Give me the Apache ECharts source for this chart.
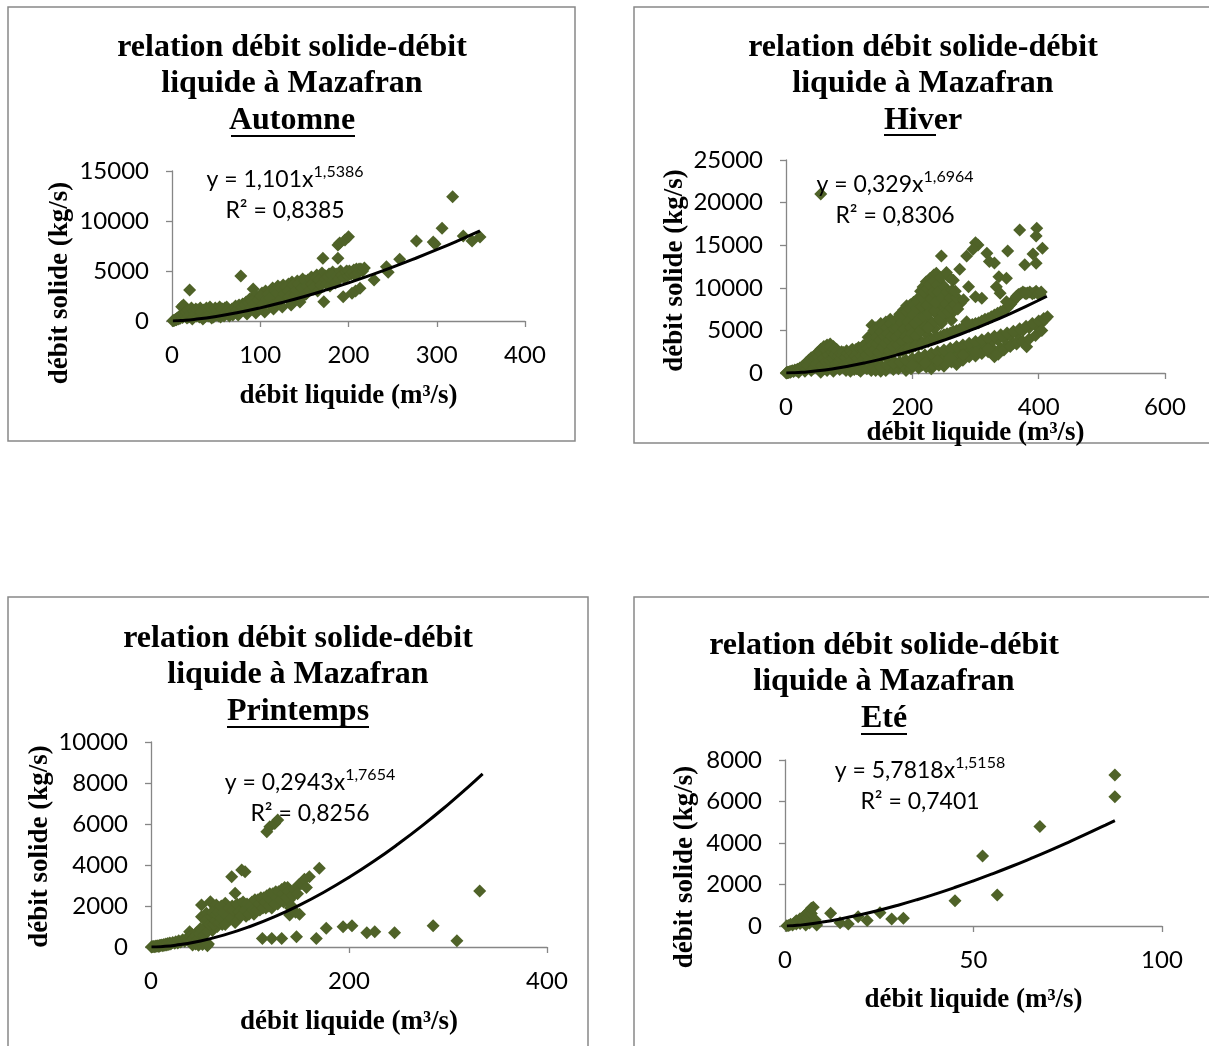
<!DOCTYPE html>
<html><head><meta charset="utf-8">
<script src="https://cdn.jsdelivr.net/npm/echarts@6/dist/echarts.min.js"></script>
<style>html,body{margin:0;padding:0;background:#fff}#c{width:1209px;height:1046px}</style>
</head><body><div id="c"></div>
<script>
// ---------- DATA ----------
const titleLine1 = 'relation débit solide-débit';
const titleLine2 = 'liquide à Mazafran';
const seasons = ['Automne', 'Hiver', 'Printemps', 'Eté'];
const xAxisName = 'débit liquide (m³/s)';
const yAxisName = 'débit solide (kg/s)';
const eqBase = ['y = 1,101x', 'y = 0,329x', 'y = 0,2943x', 'y = 5,7818x'];
const eqExp = ['1,5386', '1,6964', '1,7654', '1,5158'];
const eqR2 = ['R² = 0,8385', 'R² = 0,8306', 'R² = 0,8256', 'R² = 0,7401'];
const xMaxs = [400, 600, 400, 100];
const xSteps = [100, 200, 200, 50];
const yMaxs = [15000, 25000, 10000, 8000];
const ySteps = [5000, 5000, 2000, 2000];

const autumnPts = [
[1,20],[2,50],[3,80],[4,150],[5,120],[6,300],[7,200],[8,400],[9,250],[10,600],[11,1430],[12,350],[13,1600],[14,700],[15,500],[16,900],[18,1100],[19,400],[20,3100],[21,800],[22,1300],[24,600],[25,1000],[27,1200],[28,500],[30,900],[32,1300],[34,700],[35,200],[36,1100],[38,600],[40,1000],[42,800],[44,1200],[45,300],[46,700],[48,1000],[50,600],[52,900],[55,1100],[55,400],[58,800],[60,1300],[62,1400],[64,900],[65,500],[66,700],[68,1200],[70,1000],[72,1500],[75,1300],[75,600],[78,4500],[80,1700],[82,1100],[84,1900],[85,700],[86,1400],[88,2200],[90,1600],[92,3200],[94,2600],[95,800],[96,1900],[98,2300],[100,1500],[102,2800],[104,2000],[105,900],[106,3000],[108,2400],[110,1800],[112,2900],[114,3300],[115,1200],[116,2600],[118,2100],[120,3500],[122,3000],[124,2500],[125,1400],[126,3600],[128,3100],[130,2300],[132,3700],[134,2800],[135,1600],[136,3900],[138,3300],[140,2200],[142,4000],[144,3500],[145,1900],[146,3000],[148,4200],[150,3700],[152,2700],[154,4100],[156,3600],[158,4400],[160,3200],[162,4000],[164,4600],[166,3800],[168,4300],[170,4800],[171,6270],[172,1930],[174,4500],[176,4000],[178,4700],[180,4200],[182,4900],[184,4400],[186,4700],[188,6270],[188,7600],[190,7800],[192,4800],[194,2430],[196,8100],[198,5000],[200,8430],[202,4800],[204,2770],[206,5100],[208,3000],[210,5000],[213,3270],[214,5200],[229,4100],[243,5430],[245,4870],[258,6170],[277,8000],[296,7900],[298,7700],[306,9270],[318,12430],[330,8500],[340,8000],[349,8400],
[17,300],[23,200],[26,700],[29,1100],[31,400],[33,900],[37,400],[39,1300],[41,500],[43,1400],[47,400],[49,1300],[51,1000],[53,500],[54,1400],[56,800],[57,1200],[59,500],[61,900],[63,1100],[67,1000],[69,600],[71,1300],[73,800],[74,1100],[76,1600],[77,900],[79,1400],[81,1200],[83,1600],[87,1800],[89,1300],[91,2000],[93,1700],[97,2100],[99,1200],[101,2500],[103,1700],[107,2200],[109,2700],[111,2300],[113,1500],[117,3000],[119,2800],[121,2000],[123,3300],[127,2700],[129,3400],[131,3000],[133,2400],[137,3600],[139,2600],[141,3100],[143,3700],[147,3300],[149,2500],[151,4000],[153,3500],[155,3000],[157,4200],[159,3700],[161,3400],[163,4300],[165,3000],[167,4100],[169,3600],[173,4200],[175,3700],[177,4400],[179,3500],[181,4600],[183,4100],[185,3800],[187,4500],[189,4200],[191,5000],[193,4600],[195,4300],[197,4900],[199,4500],[201,5000],[203,4700],[205,4900],[207,4600],[209,5200],[211,4800],[212,5200],[216,5000],[218,5300]
];
const winterPts = [
[0.5,5],[1,20],[2,40],[3,80],[4,60],[5,120],[6,150],[7,90],[8,200],[10,250],[12,180],[14,350],[16,300],[18,450],[20,400],[20,100],[22,600],[24,500],[26,800],[28,700],[30,1000],[30,200],[32,1200],[34,900],[36,1500],[38,1300],[40,1800],[40,300],
[45,2000],[50,2400],[55,2800],[60,3100],[65,3300],[70,3400],[75,3100],[80,2800],[88,2500],[96,2600],[105,2800],[115,3000],[122,3200],[130,4200],[136,5600],[142,5300],[150,5800],[158,6000],[165,6300],[172,5800],[180,6900],[186,7400],[191,7900],[197,8000],[202,8300],[208,8700],[213,9600],[217,10100],[222,10700],[228,11100],[234,11500],[238,11700],[242,10900],[248,10300],[252,9700],[256,9100],[260,8500],[257,11300],[265,10900],[265,8570],[276,8180],
[45,1000],[50,1500],[52,700],[55,2000],[58,1200],[60,500],[62,2300],[65,1600],[68,900],[70,2700],[72,2000],[75,1300],[78,600],[80,2300],[82,1700],[85,1000],[88,2000],[90,1400],[92,700],[95,2200],[98,1600],[100,900],[102,2400],[105,1900],[108,1200],[110,2600],[112,500],[115,2100],[118,1500],[120,2700],[122,800],[125,2300],[128,1800],[130,3500],[132,1200],[135,2900],[138,4600],[140,2000],[142,3800],[145,1400],[148,4500],[150,2600],[152,3300],[155,5000],[158,1900],[160,4200],[162,3000],[165,5400],[168,2300],[170,4700],[172,3600],[175,6000],[178,2700],[180,5100],[182,4000],[185,6500],[188,3100],[190,5600],[192,7000],[195,4400],[198,6200],[200,3500],[202,7500],[205,5000],[208,6700],[210,4000],[212,8000],[215,5600],[218,7200],[220,9200],[222,4600],[225,8300],[228,6200],[230,10000],[232,7600],[235,5200],[238,9000],[240,6800],[243,8200],[246,5800],[250,7500],[254,6600],[258,7800],[262,6200],[265,7200],
[42,1400],[44,600],[46,1700],[48,1100],[49,2200],[51,1900],[53,1300],[54,2500],[56,900],[57,2300],[59,1700],[61,2800],[63,1300],[64,2600],[66,2100],[67,3000],[69,1500],[71,3100],[73,2500],[74,1700],[76,2800],[77,2200],[79,1000],[81,2600],[83,2000],[84,1300],[86,2300],[87,1700],[89,2100],[91,2400],[93,1000],[94,1800],[97,2300],[99,1300],[101,2000],[103,2600],[104,1500],[106,2300],[107,700],[109,2000],[111,2800],[113,1700],[114,2400],[116,1200],[117,2800],[119,2000],[121,2900],[123,1600],[124,2600],[126,3400],[127,2100],[129,2900],[131,1500],[133,3900],[134,2500],[137,3300],[139,5000],[141,2800],[143,4200],[144,3400],[146,5200],[147,2400],[149,3900],[151,4800],[153,3000],[154,5600],[156,4300],[157,3500],[159,5300],[161,4600],[163,2600],[164,3800],[166,5800],[167,4300],[169,3100],[171,5200],[173,6200],[174,4200],[176,5300],[177,3300],[179,6500],[181,4600],[183,5900],[184,3700],[186,6800],[187,5200],[189,4300],[191,7200],[193,6000],[194,3900],[196,7500],[197,5300],[199,4600],[201,6800],[203,8000],[204,5900],[206,4300],[207,7600],[209,8400],[211,6300],[213,5000],[214,7800],[216,8800],[218,6600],[219,9500],[221,5500],[223,8000],[224,9900],[226,7000],[227,10400],[229,8700],[231,5800],[233,9500],[234,10800],[236,7300],[237,8300],[239,10300],[241,9500],[243,6300],[244,11200],[247,8800],[249,7000],[251,10100],[253,8100],[255,9500],[257,7200],[259,8800],[261,7600],[263,9700],[267,8000],[270,8900],[272,7500],
[55,100],[65,300],[75,200],[85,400],[95,300],[105,500],[115,400],[125,700],[135,300],[145,800],[150,200],[155,600],[165,1000],[170,400],[175,800],[185,1200],[190,300],[195,1000],[200,1000],[205,1500],[210,600],[215,900],[225,1800],[230,500],[235,1200],[245,2000],[250,800],[255,1500],[265,2400],[270,1000],
[102,200],[108,400],[118,200],[128,500],[138,600],[142,300],[148,1000],[152,500],[158,300],[162,800],[168,600],[172,1300],[178,500],[182,900],[188,700],[192,1100],[198,500],[202,1300],[208,800],[212,1700],[218,1300],[222,700],[228,1500],[232,1000],[238,1800],[242,900],[248,1600],[252,1100],[258,2100],[262,1300],[268,1800],[272,1400],[275,2200],[280,1500],[285,2600],[290,1900],[295,2900],[300,2000],[305,3100],[310,2300],[315,3300],[320,2500],[325,3600],[330,2600],[335,3900],[340,2900],[345,4100],[350,3300],[355,4400],[360,3500],[365,4700],[370,3900],[375,5000],[385,5300],[395,5600],[405,5900],[410,6300],
[150,700],[160,900],[170,1100],[180,1300],[190,1500],[200,1700],[210,1900],[220,2100],[230,2300],[240,2500],[250,2700],[260,2900],[270,3100],[280,3300],[290,3500],[300,3700],[310,3900],[320,4100],[330,4300],[340,4500],[350,4700],[360,4900],[370,5200],[380,5500],[390,5800],[400,6100],[408,6400],[414,6600],
[200,900],[220,1200],[240,1500],[260,1800],[280,2100],[300,2400],[320,2800],[330,1900],[336,2200],[345,2700],[355,3100],[365,3400],[375,3700],[381,3090],[385,4000],[395,4400],[405,5000],
[180,2500],[190,2800],[200,3000],[210,3300],[220,3600],[230,3900],[240,4200],[250,4500],[260,4700],[270,5000],[280,5300],[290,5500],[300,5800],[310,6100],[320,6400],[330,6800],[340,7200],[350,7600],[356,8100],[362,8700],[368,9200],[375,9500],[382,9400],[390,9300],[396,9600],[402,9200],
[185,2600],[195,2900],[205,3200],[215,3400],[225,3700],[235,4100],[245,4300],[255,4600],[265,4900],[275,5100],[285,5400],[295,5700],[305,5900],[315,6300],[325,6600],[335,7000],[345,7400],[353,7900],[359,8400],[365,8900],[371,9300],[378,9400],[386,9500],[393,9400],[399,9300],[404,9500],
[55,21000],[370,16790],[397,16980],[396,16080],[406,14630],[391,13970],[396,12870],[378,12720],[351,14320],[337,11300],[349,11110],[304,15030],[300,15300],[296,14520],[246,13730],[286,13730],[318,14050],[322,13100],[330,12900],[275,12170],[289,10130],[300,8960],[310,8770],[333,10130],[339,9360],[349,8370],[286,6020],[225,5250],[365,9000],[380,9300],[254,11800],[262,11000],[281,8600],[268,9600]
];
const springPts = [
[0.5,5],[1,10],[2,20],[3,30],[4,15],[5,50],[6,40],[7,60],[8,30],[9,80],[10,70],[11,100],[12,60],[13,120],[14,90],[15,150],[16,100],[17,170],[18,120],[19,200],[20,150],[22,220],[24,180],[25,260],[27,200],[28,300],[30,250],[32,350],[34,280],[36,420],[38,300],[39,750],[40,500],
[42,100],[45,150],[48,80],[50,200],[52,120],[55,180],[57,60],[58,150],
[42,600],[44,450],[46,700],[48,550],[51,1480],[51,2050],[52,800],[54,650],[55,1000],[56,1650],[58,900],[60,2210],[60,1200],[62,800],[64,1400],[65,1900],[66,2050],[67,1000],[68,1300],[70,1700],[72,1100],[74,1500],[75,2130],[76,1800],[78,1300],[80,1600],[81.5,3430],[82,2000],[84,1400],[85,2620],[86,1800],[88,1970],[88,1500],[90,2100],[91.6,3760],[92,1700],[94,1900],[95,3670],[96,1500],[98,2000],[100,1800],[102,2200],[104,1600],[106,2000],[108,2300],[110,1800],[112,2100],[112.5,420],[114,2400],[116,1900],[117,5620],[118,2200],[120,5870],[120,2600],[122,420],[122,1900],[124,2300],[125,6030],[126,2700],[128,6200],[128,2100],[130,2500],[132,420],[132,2800],[134,2200],[136,2600],[138,2900],[140,2780],[140,2300],[140,1560],[142,2000],[144,2700],[147,500],[149,3020],[150,1600],[160,3430],[167,420],[170,3840],[177,910],[194,990],[203,1040],[218,700],[226,750],[246,700],[285,1040],[309,310],[332,2730],
[41,300],[43,400],[45,550],[47,350],[49,650],[50,900],[53,550],[55,1300],[57,750],[59,1100],[61,1500],[62,1700],[63,1100],[65,1300],[66,1600],[68,1700],[69,1200],[71,1400],[71,2000],[73,1700],[75,1100],[77,1500],[79,1900],[81,1400],[83,1800],[85,1200],[87,2100],[89,1700],[91,1500],[93,2200],[95,1800],[97,2100],[99,1600],[101,2000],[103,1800],[105,2300],[107,1800],[109,2100],[111,2400],[113,1900],[115,2200],[117,2500],[119,2000],[121,2300],[123,2600],[125,2100],[127,2400],[129,2700],[131,2300],[133,2600],[135,2900],[137,2400],[139,2700],[141,1900],[143,2500],[145,2800],[146,1700],[148,2600],[152,3100],[155,3300],[157,2900]
];
const summerPts = [
[0.5,10],[1,30],[1.5,80],[2,50],[2.5,150],[3,100],[3,250],[3.5,200],[4,350],[4,120],[4.5,300],[5,450],[5,200],[5.5,550],[5.5,50],[6,400],[6,650],[6.5,700],[6.5,150],[7,600],[7,850],[7.5,900],[8,300],[8.4,50],[12.1,610],[14.6,160],[16.8,100],[19.4,450],[21.8,260],[25.2,640],[28.3,340],[31.4,370],[45.1,1220],[52.4,3370],[56.3,1490],[67.6,4790],[87.5,6230],[87.5,7280]
];
// trend-line values
const autumnTrend = [[1,1],[5,13],[10,38],[25,156],[50,453],[75,845],[100,1315],[125,1854],[150,2452],[175,3110],[200,3818],[225,4579],[250,5384],[275,6236],[300,7129],[325,8066],[349,9001]];
const winterTrend = [[0.5,0.1],[1,0.3],[10,16],[25,77],[50,251],[75,499],[100,813],[125,1187],[150,1617],[175,2101],[200,2634],[225,3217],[250,3847],[275,4521],[300,5241],[325,6001],[350,6804],[380,7824],[413,9012]];
const springTrend = [[0.5,0.1],[1,0.3],[10,17],[25,86],[50,294],[75,601],[100,999],[125,1480],[150,2043],[175,2683],[200,3396],[225,4179],[250,5036],[275,5957],[300,6946],[320,7784],[335,8441]];
const summerTrend = [[0.5,2],[1,6],[2.5,23],[5,66],[10,190],[15,351],[20,542],[25,760],[30,1003],[35,1267],[40,1551],[45,1854],[50,2175],[55,2513],[60,2867],[65,3238],[70,3622],[75,4023],[80,4435],[85,4863],[87.5,5079]];

const scatterData = [autumnPts, winterPts, springPts, summerPts];
const trendData = [autumnTrend, winterTrend, springTrend, summerTrend];

// ---------- LAYOUT ----------
const panels = [
  {box:[8,7,567,434], grid:[172,171,353,150], title:[292,29], ul:[231,355,136], eq:[285,195], xGap:62, yGap:98, yShift:74},
  {box:[634,7,600,436], grid:[786,160,379,213], title:[923,29], ul:[884,936,135], eq:[895,200], xGap:41, yGap:97, yShift:8},
  {box:[8,597,580,470], grid:[151,742,396,205], title:[298,620], ul:[227,369,727], eq:[310,798], xGap:62, yGap:97, yShift:4},
  {box:[634,597,600,470], grid:[785,760,377,166], title:[884,627], ul:[861,907,734], eq:[920,786], xGap:61, yGap:86, yShift:48}
];
const serif = '"Liberation Serif","Times New Roman",serif';
const sans = 'Lato, "Open Sans", sans-serif';
const axisCol = '#868686';

const option = {
  backgroundColor:'#fff',
  animation:false,
  title: panels.map((p,i)=>({
    text: titleLine1 + '\n' + titleLine2 + '\n' + seasons[i],
    left: p.title[0], top: p.title[1], textAlign:'center', padding:0,
    textStyle:{fontFamily:serif, fontWeight:'bold', fontSize:32, lineHeight:36.5, color:'#000'}
  })),
  grid: panels.map(p=>({left:p.grid[0], top:p.grid[1], width:p.grid[2], height:p.grid[3]})),
  xAxis: panels.map((p,i)=>({
    type:'value', gridIndex:i, min:0, max:xMaxs[i], interval:xSteps[i],
    name:xAxisName, nameLocation:'middle', nameGap:p.xGap,
    nameTextStyle:{fontFamily:serif, fontWeight:'bold', fontSize:27, color:'#000'},
    axisLine:{show:true, onZero:false, lineStyle:{color:axisCol, width:1.3}},
    axisTick:{show:true, length:6, lineStyle:{color:axisCol, width:1.3}},
    axisLabel:{fontFamily:sans, fontSize:24, color:'#000', margin:22, formatter:v=>String(v)},
    splitLine:{show:false}
  })),
  yAxis: panels.map((p,i)=>({
    type:'value', gridIndex:i, min:0, max:yMaxs[i], interval:ySteps[i],
    name:yAxisName, nameLocation:'middle', nameGap:p.yGap,
    nameTextStyle:{fontFamily:serif, fontWeight:'bold', fontSize:27, color:'#000', padding:[0,p.yShift,0,0]},
    axisLine:{show:true, onZero:false, lineStyle:{color:axisCol, width:1.3}},
    axisTick:{show:true, length:6, lineStyle:{color:axisCol, width:1.3}},
    axisLabel:{fontFamily:sans, fontSize:24, color:'#000', margin:23, formatter:v=>String(v)},
    splitLine:{show:false}
  })),
  series: [].concat(
    scatterData.map((d,i)=>({
      type:'scatter', xAxisIndex:i, yAxisIndex:i, data:d, symbol:'diamond', symbolSize:13,
      itemStyle:{color:'#4F6228', opacity:1}, z:2
    })),
    trendData.map((d,i)=>({
      type:'line', xAxisIndex:i, yAxisIndex:i, data:d, smooth:true, showSymbol:false,
      lineStyle:{color:'#000', width:3}, z:5, silent:true
    }))
  ),
  graphic: [].concat(
    panels.map(p=>({type:'rect', shape:{x:p.box[0], y:p.box[1], width:p.box[2], height:p.box[3]},
      style:{fill:'none', stroke:'#888', lineWidth:1.5}, z:-1})),
    panels.map(p=>({type:'line', shape:{x1:p.ul[0], y1:p.ul[2], x2:p.ul[1], y2:p.ul[2]},
      style:{stroke:'#000', lineWidth:2}})),
    panels.map((p,i)=>({type:'text', z:10, style:{
      x:p.eq[0], y:p.eq[1], align:'center', verticalAlign:'middle',
      text:'{n|' + eqBase[i] + '}{s|' + eqExp[i] + '}\n{n|' + eqR2[i] + '}',
      rich:{n:{fontFamily:sans, fontSize:23, color:'#000', lineHeight:31},
            s:{fontFamily:sans, fontSize:16, color:'#000', lineHeight:31, verticalAlign:'top', padding:[0,0,8,0]}}
    }}))
  )
};
const chart = echarts.init(document.getElementById('c'));
chart.setOption(option);
</script></body></html>
